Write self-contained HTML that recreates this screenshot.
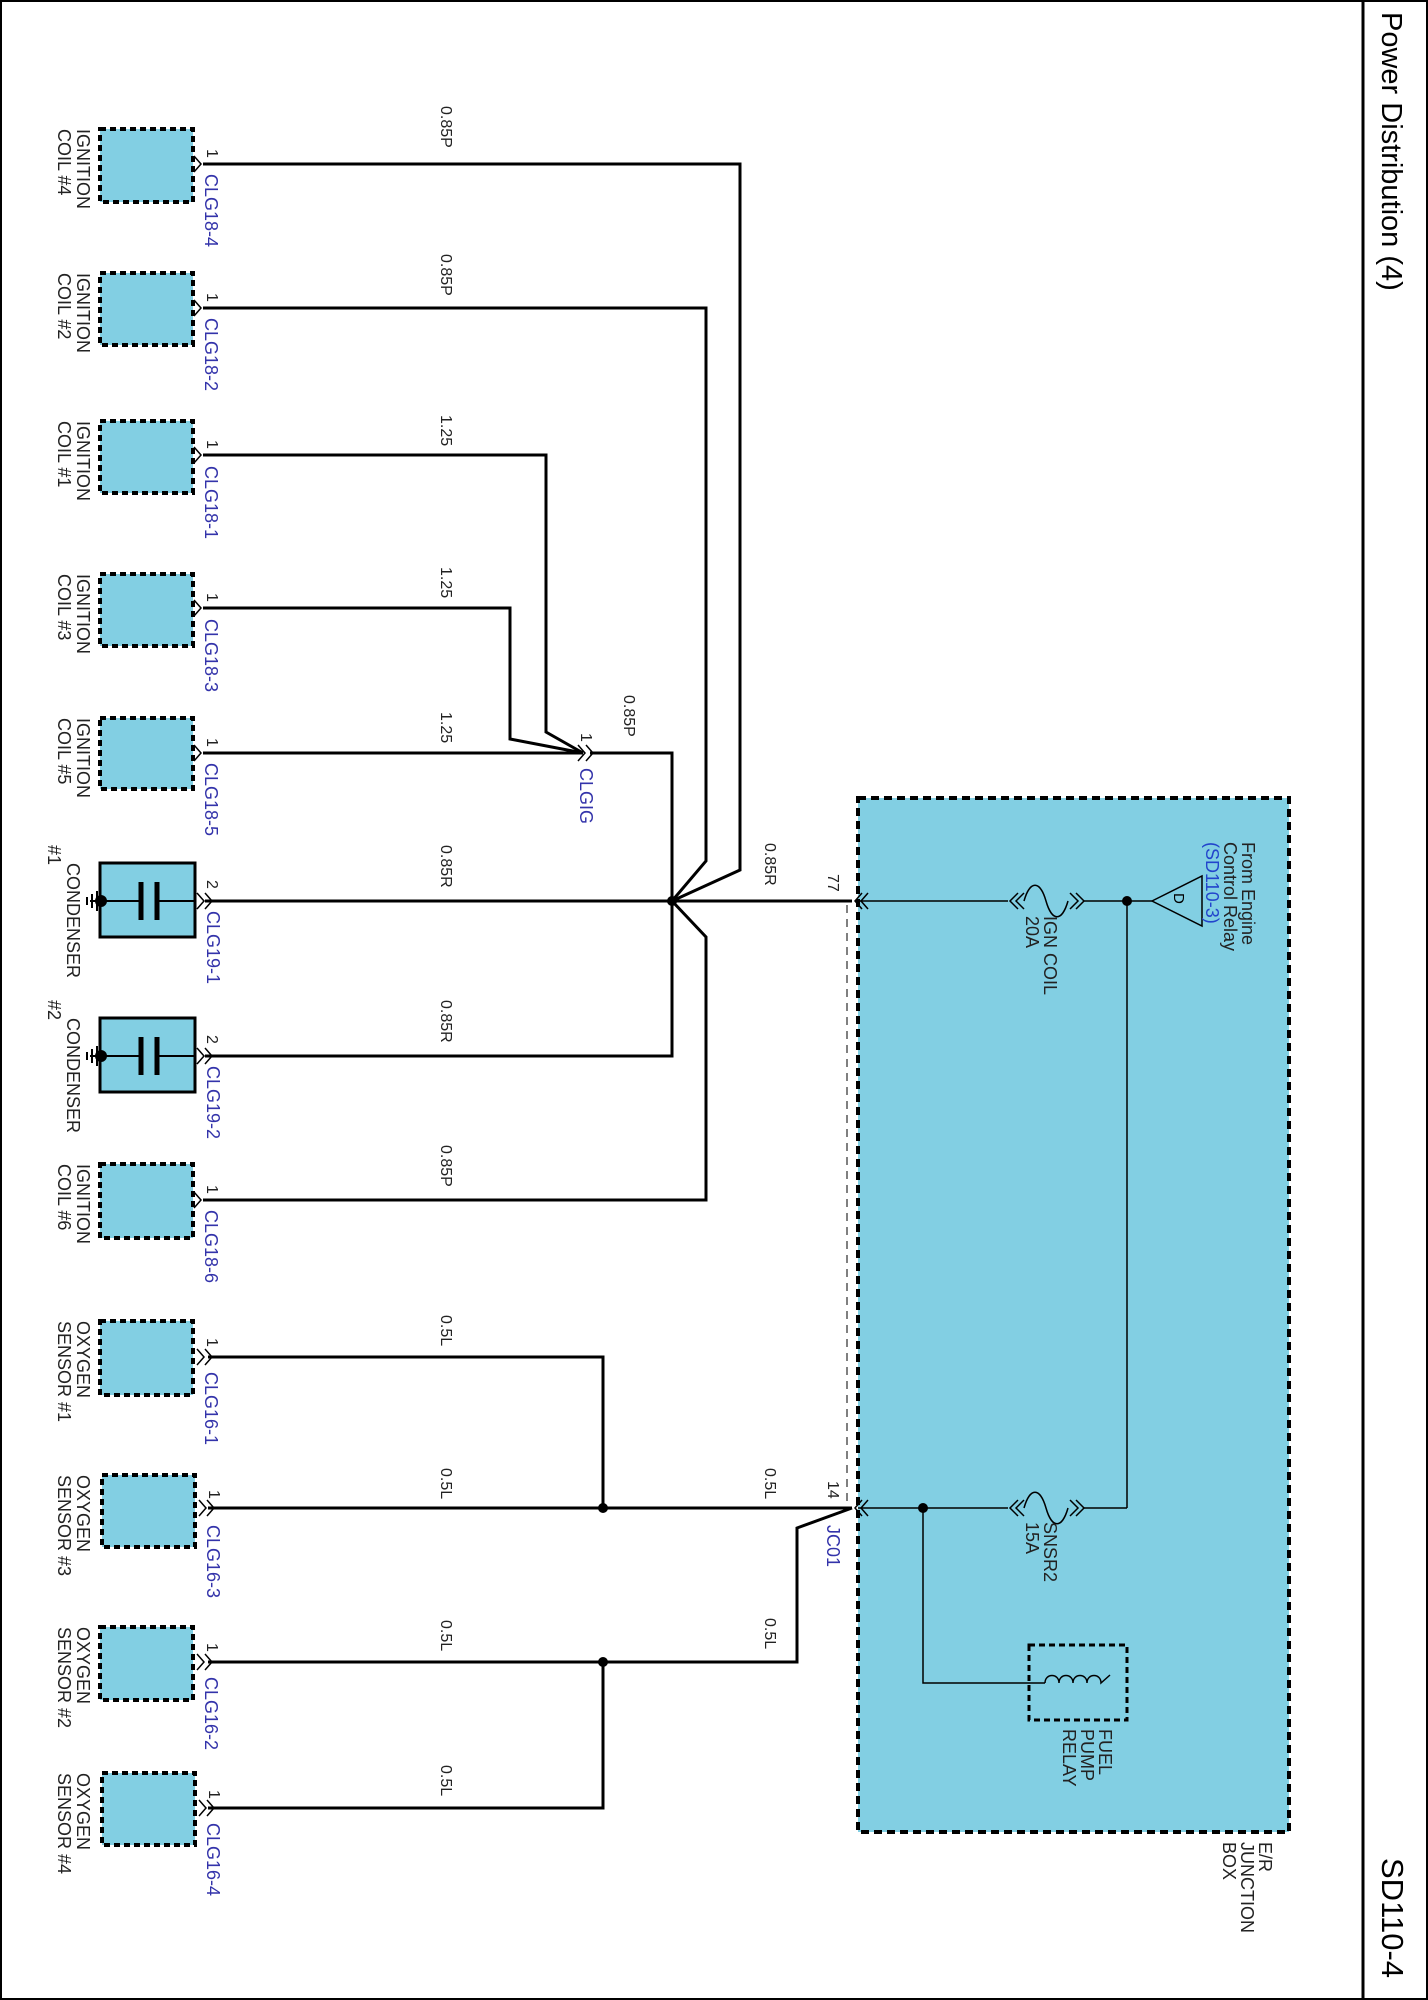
<!DOCTYPE html>
<html><head><meta charset="utf-8"><style>
html,body{margin:0;padding:0;background:#fff}
svg{display:block}
text{font-family:"Liberation Sans",Arial,sans-serif}
.l{font-size:18px;fill:#222}
.w{font-size:16px;fill:#222}
.b{font-size:18px;fill:#3333aa}
</style></head><body>
<svg width="1428" height="2000" viewBox="0 0 1428 2000" xmlns="http://www.w3.org/2000/svg">
<rect x="1" y="1" width="1426" height="1998" fill="none" stroke="#000" stroke-width="2"/>
<line x1="1363" y1="0" x2="1363" y2="2000" stroke="#000" stroke-width="3"/>
<text transform="translate(1382,12) rotate(90)" style="font-size:29px">Power Distribution (4)</text>
<text transform="translate(1382,1858) rotate(90)" style="font-size:31px">SD110-4</text>

<rect x="858" y="798" width="431" height="1034" fill="#82cfe3" stroke="#000" stroke-width="4" stroke-dasharray="8,5"/>
<line x1="847" y1="905" x2="847" y2="1505" stroke="#000" stroke-width="1" stroke-dasharray="8,6"/>
<text transform="translate(1239,1842) rotate(90)" class="l"><tspan x="0" y="-20">E/R</tspan><tspan x="0" y="-2">JUNCTION</tspan><tspan x="0" y="16">BOX</tspan></text>

<g fill="#82cfe3" stroke="#000" stroke-width="4" stroke-dasharray="6,4">
<rect x="100" y="129" width="93" height="73"/>
<rect x="100" y="273" width="93" height="72"/>
<rect x="100" y="421" width="93" height="72"/>
<rect x="100" y="574" width="93" height="72"/>
<rect x="100" y="718" width="93" height="71"/>
<rect x="100" y="1164" width="93" height="74"/>
<rect x="100" y="1321" width="93" height="74"/>
<rect x="102" y="1475" width="93" height="72"/>
<rect x="100" y="1627" width="93" height="73"/>
<rect x="102" y="1773" width="93" height="72"/>
<rect x="1029" y="1645" width="98" height="75" fill="none" stroke-width="3"/>
</g>
<g stroke="#000">
<rect x="100" y="863" width="95" height="74" fill="#82cfe3" stroke-width="3"/>
<rect x="100" y="1018" width="95" height="74" fill="#82cfe3" stroke-width="3"/>
<g stroke-width="2"><line x1="100" y1="901" x2="141" y2="901"/><line x1="157" y1="901" x2="195" y2="901"/><line x1="100" y1="1056" x2="141" y2="1056"/><line x1="157" y1="1056" x2="195" y2="1056"/>
<line x1="97" y1="891" x2="97" y2="911"/><line x1="92" y1="894" x2="92" y2="908"/><line x1="87" y1="897" x2="87" y2="905"/><line x1="90" y1="901" x2="100" y2="901"/>
<line x1="97" y1="1046" x2="97" y2="1066"/><line x1="92" y1="1049" x2="92" y2="1063"/><line x1="87" y1="1052" x2="87" y2="1060"/><line x1="90" y1="1056" x2="100" y2="1056"/></g>
<g stroke-width="5"><line x1="141" y1="882" x2="141" y2="920"/><line x1="157" y1="882" x2="157" y2="920"/><line x1="141" y1="1037" x2="141" y2="1075"/><line x1="157" y1="1037" x2="157" y2="1075"/></g>
</g>
<circle cx="101" cy="901" r="6"/><circle cx="101" cy="1056" r="6"/>

<g fill="none" stroke="#000" stroke-width="3">
<polyline points="203,164 740,164 740,870 672,901"/>
<polyline points="203,308 706,308 706,861 672,901"/>
<polyline points="203,455 546,455 546,732 583,753"/>
<polyline points="203,608 510,608 510,739 583,753"/>
<polyline points="203,753 583,753"/>
<polyline points="590,753 672,753 672,1056 205,1056"/>
<polyline points="205,901 852,901"/>
<polyline points="672,901 706,937 706,1200 203,1200"/>
<polyline points="208,1357 603,1357 603,1508"/>
<polyline points="208,1508 852,1508"/>
<polyline points="208,1662 797,1662 797,1528 852,1508"/>
<polyline points="208,1808 603,1808 603,1662"/>
</g>
<g fill="#000"><circle cx="672" cy="901" r="5"/><circle cx="603" cy="1508" r="5"/><circle cx="603" cy="1662" r="5"/><circle cx="1127" cy="901" r="5"/><circle cx="923" cy="1508" r="5"/></g>

<g fill="none" stroke="#000" stroke-width="1.5">
<path d="M194,156 L201,164 L194,172"/><path d="M194,300 L201,308 L194,316"/><path d="M194,447 L201,455 L194,463"/><path d="M194,600 L201,608 L194,616"/><path d="M194,745 L201,753 L194,761"/><path d="M194,1192 L201,1200 L194,1208"/>
<path d="M197,893 L204,901 L197,909 M205,893 L212,901 L205,909"/>
<path d="M197,1048 L204,1056 L197,1064 M205,1048 L212,1056 L205,1064"/>
<path d="M197,1349 L204,1357 L197,1365 M205,1349 L212,1357 L205,1365"/>
<path d="M199,1500 L206,1508 L199,1516 M207,1500 L214,1508 L207,1516"/>
<path d="M197,1654 L204,1662 L197,1670 M205,1654 L212,1662 L205,1670"/>
<path d="M199,1800 L206,1808 L199,1816 M207,1800 L214,1808 L207,1816"/>
<path d="M578,745 L585,753 L578,761 M586,745 L593,753 L586,761"/>
<path d="M862,893 L855,901 L862,909 M868,893 L861,901 L868,909"/>
<path d="M862,1500 L855,1508 L862,1516 M868,1500 L861,1508 L868,1516"/>
</g>

<g fill="none" stroke="#000" stroke-width="1.5">
<line x1="858" y1="901" x2="1008" y2="901"/>
<path d="M1018,893 L1010,901 L1018,909 M1024,893 L1016,901 L1024,909"/>
<path d="M1024,901 C1030,880 1040,880 1046,901 C1052,922 1062,922 1068,901"/>
<path d="M1070,893 L1078,901 L1070,909 M1076,893 L1084,901 L1076,909"/>
<line x1="1084" y1="901" x2="1152" y2="901"/>
<polygon points="1152,901 1202,876 1202,926"/>
<line x1="1127" y1="901" x2="1127" y2="1508"/>
<line x1="858" y1="1508" x2="1008" y2="1508"/>
<path d="M1018,1500 L1010,1508 L1018,1516 M1024,1500 L1016,1508 L1024,1516"/>
<path d="M1024,1508 C1030,1487 1040,1487 1046,1508 C1052,1529 1062,1529 1068,1508"/>
<path d="M1070,1500 L1078,1508 L1070,1516 M1076,1500 L1084,1508 L1076,1516"/>
<line x1="1084" y1="1508" x2="1127" y2="1508"/>
<polyline points="923,1508 923,1683 1045,1683"/>
<path d="M1045,1683 c0,-10 14,-10 14,0 c0,-10 14,-10 14,0 c0,-10 14,-10 14,0 c0,-10 14,-10 14,0 L1110,1675"/>
</g>
<text transform="translate(1174,893) rotate(90)" style="font-size:15px">D</text>
<text transform="translate(1216,842) rotate(90)" class="l"><tspan x="0" y="-26" style="fill:#222">From Engine</tspan><tspan x="0" y="-8" style="fill:#222">Control Relay</tspan><tspan x="0" y="10" style="fill:#2244cc">(SD110-3)</tspan></text>
<text transform="translate(1038,916) rotate(90)" class="l"><tspan x="0" y="-6">IGN COIL</tspan><tspan x="0" y="12">20A</tspan></text>
<text transform="translate(1038,1522) rotate(90)" class="l"><tspan x="0" y="-6">SNSR2</tspan><tspan x="0" y="12">15A</tspan></text>
<text transform="translate(1075,1729) rotate(90)" class="l"><tspan x="0" y="-24">FUEL</tspan><tspan x="0" y="-6">PUMP</tspan><tspan x="0" y="12">RELAY</tspan></text>

<g class="l">
<text transform="translate(58,129) rotate(90)"><tspan x="0" y="-19">IGNITION</tspan><tspan x="0" y="0">COIL #4</tspan></text>
<text transform="translate(58,273) rotate(90)"><tspan x="0" y="-19">IGNITION</tspan><tspan x="0" y="0">COIL #2</tspan></text>
<text transform="translate(58,421) rotate(90)"><tspan x="0" y="-19">IGNITION</tspan><tspan x="0" y="0">COIL #1</tspan></text>
<text transform="translate(58,574) rotate(90)"><tspan x="0" y="-19">IGNITION</tspan><tspan x="0" y="0">COIL #3</tspan></text>
<text transform="translate(58,718) rotate(90)"><tspan x="0" y="-19">IGNITION</tspan><tspan x="0" y="0">COIL #5</tspan></text>
<text transform="translate(58,1164) rotate(90)"><tspan x="0" y="-19">IGNITION</tspan><tspan x="0" y="0">COIL #6</tspan></text>
<text transform="translate(48,845) rotate(90)"><tspan x="18" y="-19">CONDENSER</tspan><tspan x="0" y="0">#1</tspan></text>
<text transform="translate(48,1000) rotate(90)"><tspan x="18" y="-19">CONDENSER</tspan><tspan x="0" y="0">#2</tspan></text>
<text transform="translate(58,1321) rotate(90)"><tspan x="0" y="-19">OXYGEN</tspan><tspan x="0" y="0">SENSOR #1</tspan></text>
<text transform="translate(58,1475) rotate(90)"><tspan x="0" y="-19">OXYGEN</tspan><tspan x="0" y="0">SENSOR #3</tspan></text>
<text transform="translate(58,1627) rotate(90)"><tspan x="0" y="-19">OXYGEN</tspan><tspan x="0" y="0">SENSOR #2</tspan></text>
<text transform="translate(58,1773) rotate(90)"><tspan x="0" y="-19">OXYGEN</tspan><tspan x="0" y="0">SENSOR #4</tspan></text>
</g>
<g class="w">
<text transform="translate(207,149) rotate(90)">1</text>
<text transform="translate(207,293) rotate(90)">1</text>
<text transform="translate(207,440) rotate(90)">1</text>
<text transform="translate(207,593) rotate(90)">1</text>
<text transform="translate(207,738) rotate(90)">1</text>
<text transform="translate(207,1185) rotate(90)">1</text>
<text transform="translate(207,880) rotate(90)">2</text>
<text transform="translate(207,1035) rotate(90)">2</text>
<text transform="translate(207,1338) rotate(90)">1</text>
<text transform="translate(209,1490) rotate(90)">1</text>
<text transform="translate(207,1643) rotate(90)">1</text>
<text transform="translate(209,1790) rotate(90)">1</text>
<text transform="translate(581,733) rotate(90)">1</text>
<text transform="translate(828,874) rotate(90)">77</text>
<text transform="translate(828,1481) rotate(90)">14</text>
</g>
<g class="b">
<text transform="translate(205,174) rotate(90)">CLG18-4</text>
<text transform="translate(205,318) rotate(90)">CLG18-2</text>
<text transform="translate(205,466) rotate(90)">CLG18-1</text>
<text transform="translate(205,619) rotate(90)">CLG18-3</text>
<text transform="translate(205,763) rotate(90)">CLG18-5</text>
<text transform="translate(205,1210) rotate(90)">CLG18-6</text>
<text transform="translate(207,911) rotate(90)">CLG19-1</text>
<text transform="translate(207,1066) rotate(90)">CLG19-2</text>
<text transform="translate(205,1372) rotate(90)">CLG16-1</text>
<text transform="translate(207,1525) rotate(90)">CLG16-3</text>
<text transform="translate(205,1677) rotate(90)">CLG16-2</text>
<text transform="translate(207,1823) rotate(90)">CLG16-4</text>
<text transform="translate(580,768) rotate(90)">CLGIG</text>
<text transform="translate(827,1525) rotate(90)">JC01</text>
</g>
<g class="w">
<text transform="translate(441,106) rotate(90)">0.85P</text>
<text transform="translate(441,254) rotate(90)">0.85P</text>
<text transform="translate(441,415) rotate(90)">1.25</text>
<text transform="translate(441,567) rotate(90)">1.25</text>
<text transform="translate(441,712) rotate(90)">1.25</text>
<text transform="translate(624,695) rotate(90)">0.85P</text>
<text transform="translate(441,845) rotate(90)">0.85R</text>
<text transform="translate(441,1000) rotate(90)">0.85R</text>
<text transform="translate(441,1145) rotate(90)">0.85P</text>
<text transform="translate(765,843) rotate(90)">0.85R</text>
<text transform="translate(441,1315) rotate(90)">0.5L</text>
<text transform="translate(441,1468) rotate(90)">0.5L</text>
<text transform="translate(441,1620) rotate(90)">0.5L</text>
<text transform="translate(441,1765) rotate(90)">0.5L</text>
<text transform="translate(765,1468) rotate(90)">0.5L</text>
<text transform="translate(765,1618) rotate(90)">0.5L</text>
</g>
</svg>
</body></html>
